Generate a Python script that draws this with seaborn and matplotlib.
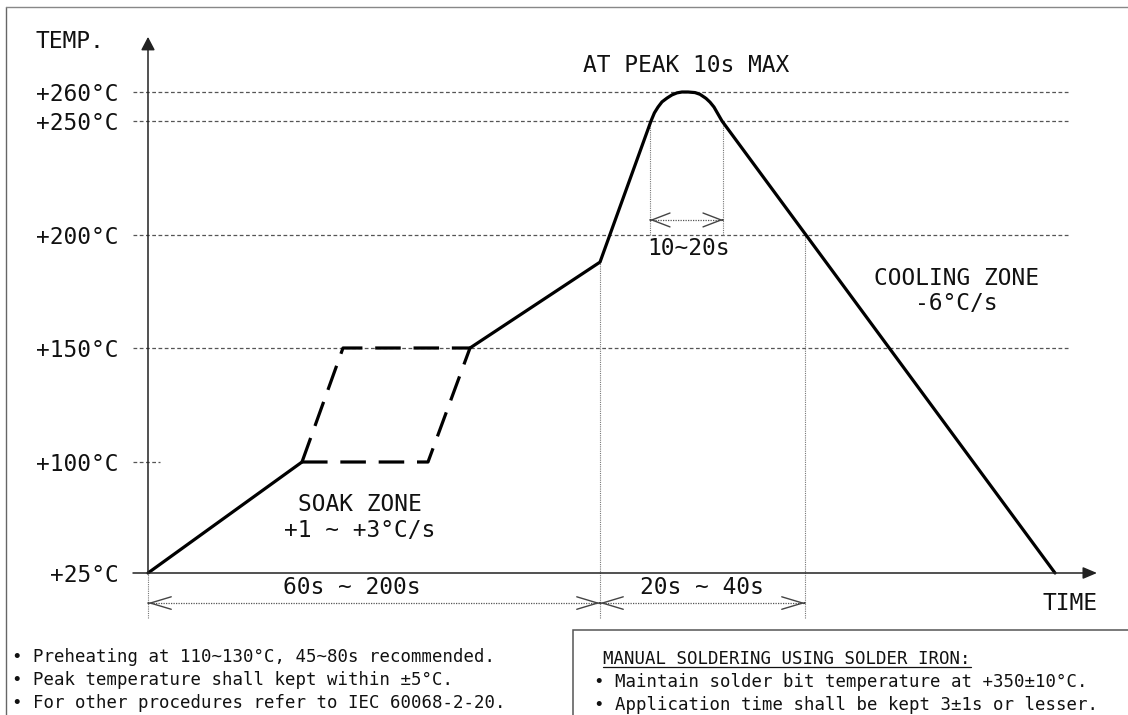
import numpy as np
import pandas as pd
import matplotlib
matplotlib.use('Agg')
import matplotlib.pyplot as plt
from matplotlib.patches import Rectangle
from matplotlib.lines import Line2D
import seaborn as sns

W, H = 1128, 715

# temperature levels shown on the vertical axis
temp_levels = [25, 100, 150, 200, 250, 260]
temp_labels = ['+25°C', '+100°C', '+150°C', '+200°C', '+250°C', '+260°C']
grid_levels = [150, 200, 250, 260]

# profile (schematic time units, °C)
ramp_time = [0, 38.5]
ramp_temp = [25, 100]
soak_low_time = [38.5, 70, 80.5]
soak_low_temp = [100, 100, 150]
soak_high_time = [38.5, 48.75, 80.5]
soak_high_temp = [100, 150, 150]
reflow_time = [80.5, 113, 125.75, 126.6, 127.5, 128.5, 129.75, 131, 132.25, 133.5, 135,
               136.75, 138, 139.5, 140.5, 141.5, 142.25, 143.5, 226.75]
reflow_temp = [150, 188, 250, 252.8, 254.8, 256.6, 257.9, 259, 259.7, 260, 260,
               259.8, 259.2, 257.8, 256.5, 254.8, 253, 250, 25]

# dimension spans
preheat_span = (0, 113)
reflow_span = (113, 164.25)
peak_span = (125.5, 143.75)

notes_left = ['• Preheating at 110~130°C, 45~80s recommended.',
              '• Peak temperature shall kept within ±5°C.',
              '• For other procedures refer to IEC 60068-2-20.']
notes_title = 'MANUAL SOLDERING USING SOLDER IRON:'
notes_right = ['• Maintain solder bit temperature at +350±10°C.',
               '• Application time shall be kept 3±1s or lesser.']

# schematic (non-linear) vertical scale: temperature -> pixel height
scale_temp = [-100, 25, 100, 150, 200, 250, 260, 320]
scale_px = [-43, 142, 253, 367, 480, 594, 623, 797]


def fwd(T):
    return np.interp(T, scale_temp, scale_px)


def inv(h):
    return np.interp(h, scale_px, scale_temp)


sns.set_theme(style='white')
plt.rcParams['font.family'] = ['DejaVu Sans Mono', 'DejaVu Sans']
ink = '#111111'

fig = plt.figure(figsize=(W / 100, H / 100), dpi=100)
ax = fig.add_axes([0, 0, 1, 1])
ax.set_yscale('function', functions=(fwd, inv))
ax.set_xlim(-148 / 4, (W - 148) / 4)
ax.set_ylim(inv(0), inv(H))

ax.spines['left'].set_position(('data', 0))
for s in ax.spines.values():
    s.set_visible(False)
ax.set_xticks([])
ax.set_yticks(temp_levels, temp_labels)
ax.minorticks_off()
ax.tick_params(axis='y', length=0, pad=21, labelsize=16.5, labelcolor=ink)

# reference lines
ax.hlines(grid_levels, -3.75, 230, colors='#555555', linestyles=(0, (3, 2)), lw=0.9)
ax.hlines(100, -3.75, 3, colors='#555555', linestyles=(0, (3, 2)), lw=0.9)

# vertical dotted guide lines
dot = dict(colors='#777777', linestyles=(0, (1, 1)), lw=0.8)
ax.vlines(preheat_span[0], -5.4, 25, **dot)
ax.vlines(preheat_span[1], -5.4, 188, **dot)
ax.vlines(reflow_span[1], -5.4, 200, **dot)
ax.vlines(peak_span, 200, 250, **dot)

# axes arrows
ax.annotate('', xy=(0, 279), xytext=(0, 25),
            arrowprops=dict(arrowstyle='-|>,head_length=0.8,head_width=0.42', lw=1.1,
                            color='#222222', shrinkA=0, shrinkB=0, mutation_scale=10))
ax.annotate('', xy=(237.25, 25), xytext=(-3.75, 25),
            arrowprops=dict(arrowstyle='-|>,head_length=0.85,head_width=0.36', lw=1.1,
                            color='#222222', shrinkA=0, shrinkB=0, mutation_scale=10))

# profile
prof = dict(color='black', lw=2.3, estimator=None, legend=False, ax=ax)
sns.lineplot(x=ramp_time, y=ramp_temp, solid_capstyle='round', **prof)
sns.lineplot(x=reflow_time, y=reflow_temp, solid_joinstyle='round', solid_capstyle='round', **prof)
sns.lineplot(x=soak_low_time, y=soak_low_temp, linestyle=(0, (8, 4)), **prof)
sns.lineplot(x=soak_high_time, y=soak_high_temp, linestyle=(0, (8, 4)), **prof)
ax.set_xlabel('')
ax.set_ylabel('')


def dim_arrow(t0, t1, T, hl=1.5, hw=0.45):
    ax.hlines(T, t0, t1, colors='#555555', linestyles=(0, (1, 1)), lw=0.9)
    for a, b in ((t0, t1), (t1, t0)):
        d = 0.05 if b > a else -0.05
        ax.annotate('', xy=(a, T), xytext=(a + d, T),
                    arrowprops=dict(arrowstyle=f'->,head_length={hl},head_width={hw}',
                                    color='#444444', lw=1.0, shrinkA=0, shrinkB=0,
                                    mutation_scale=10))


dim_arrow(*preheat_span, 4.7)
dim_arrow(*reflow_span, 4.7)
dim_arrow(*peak_span, 206.6, hl=1.3, hw=0.5)

big = dict(fontsize=16.5, color=ink, ha='center', va='center')
ax.text(134.5, 269.3, 'AT PEAK 10s MAX', **big)
ax.text(135, 194.2, '10~20s', **big)
ax.text(202, 175.2, 'COOLING ZONE\n-6°C/s', linespacing=1.15, **big)
ax.text(53, 62.5, 'SOAK ZONE\n+1 ~ +3°C/s', linespacing=1.15, **big)
ax.text(51, 15.5, '60s ~ 200s', **big)
ax.text(138.5, 15.2, '20s ~ 40s', **big)
ax.text(230.5, 4.7, 'TIME', **big)
fig.text(35 / W, 1 - 42 / H, 'TEMP.', fontsize=16.5, color=ink, ha='left', va='center')

# notes below the chart
for i, line in enumerate(notes_left):
    fig.text(12 / W, 1 - (657 + 23 * i) / H, line, fontsize=12.5, color=ink, va='center')
title = fig.text(603 / W, 1 - 659 / H, notes_title, fontsize=12.5, color=ink, va='center')
for i, line in enumerate(notes_right):
    fig.text(594 / W, 1 - (682 + 23 * i) / H, line, fontsize=12.5, color=ink, va='center')

# frame and note box
fig.add_artist(Line2D([6 / W, 6 / W], [0, 1 - 7 / H], color='#666666', lw=1.0))
fig.add_artist(Line2D([6 / W, 1], [1 - 7 / H, 1 - 7 / H], color='#888888', lw=1.0))
fig.add_artist(Rectangle((573 / W, -0.05), 0.6, 0.05 + (H - 630) / H, fill=False,
                         edgecolor='#555555', lw=1.1, transform=fig.transFigure))

fig.canvas.draw()
bb = title.get_window_extent()
fig.add_artist(Line2D([bb.x0 / W, bb.x1 / W], [(bb.y0 + 1) / H, (bb.y0 + 1) / H],
                      color=ink, lw=0.9))

fig.savefig('out.png', dpi=100, facecolor='white')
